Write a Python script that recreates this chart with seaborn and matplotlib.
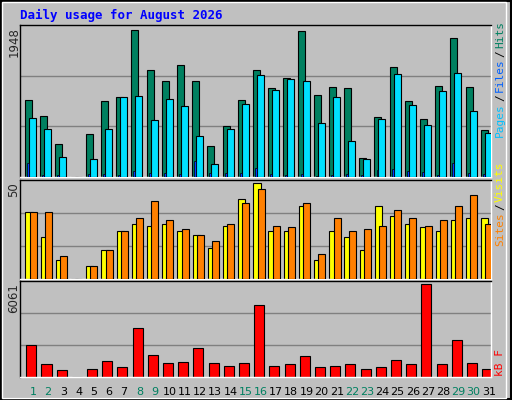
import matplotlib
matplotlib.use("Agg")
import matplotlib.pyplot as plt
import seaborn as sns
import numpy as np
from matplotlib.patches import Rectangle

sns.set_style("white")
plt.rcParams['font.family'] = ['DejaVu Sans Mono', 'DejaVu Sans']

days = list(range(1, 32))
day_labels = [str(d) for d in days]
weekend = [1, 2, 8, 9, 15, 16, 22, 23, 29, 30]

hits_px = [298,346,430,530,400,301,289,88,208,241,193,241,436,376,298,208,262,232,91,283,259,262,472,349,199,301,355,256,112,259,388]
files_px = [352,385,469,530,475,385,289,286,358,295,316,406,490,385,310,223,268,235,241,367,289,421,475,355,220,313,373,271,217,331,397]
pages_px = [487,523,523,530,520,520,523,511,517,517,520,481,517,517,517,502,520,523,520,526,523,520,523,508,505,511,514,523,487,517,520]
hits = [round((530 - p) / 442 * 1948) for p in hits_px]
files = [round((530 - p) / 442 * 1948) for p in files_px]
pages = [round((530 - p) / 442 * 1948) for p in pages_px]

sites_px = [109,181,247,305,268,220,169,142,148,142,169,175,214,148,70,28,166,169,97,247,166,181,220,94,121,142,154,166,136,127,130]
visits_px = [109,109,241,305,265,220,166,127,76,136,160,175,193,142,82,43,148,154,82,232,127,166,160,148,103,127,148,136,97,64,142]
sites = [round((305 - p) / 277 * 50) for p in sites_px]
visits = [round((305 - p) / 277 * 50) for p in visits_px]

kb_px = [508,565,580,602,577,556,571,457,538,562,559,517,562,568,562,388,568,565,541,571,568,565,577,571,553,565,328,565,493,562,577]
kbytes = [round((602 - p) / 274 * 6061) for p in kb_px]

BG = "#C0C0C0"
fig = plt.figure(figsize=(5.12, 4.0), dpi=100)
fig.patch.set_facecolor(BG)
fig.patches.append(Rectangle((0.002, 0.002), 0.996, 0.996, transform=fig.transFigure,
                             fill=False, edgecolor="black", lw=1.5))
fig.patches.append(Rectangle((0.004, 0.006), 0.985, 0.988, transform=fig.transFigure,
                             fill=False, edgecolor="white", lw=1))

W, H = 512, 400
def add_ax(top, bottom):
    ax = fig.add_axes([20 / W, (H - bottom) / H, 471 / W, (bottom - top) / H])
    ax.set_facecolor(BG)
    for s in ["left", "top"]:
        ax.spines[s].set_color("black")
    for s in ["right", "bottom"]:
        ax.spines[s].set_color("white")
    for s in ax.spines.values():
        s.set_linewidth(1)
    ax.set_xlim(0.145, 31.145)
    ax.set_xticks([])
    ax.set_yticks([])
    return ax

x = np.array(days, dtype=float)
frac = 0.965
ec = "black"

ax1 = add_ax(25, 177)
ymax = max(hits) / frac
ax1.set_ylim(0, ymax)
for g in (1/3, 2/3):
    ax1.axhline(g * ymax, color="#808080", lw=1, zorder=0)
ax1.bar(x - 0.296, hits, width=0.46, color="#008060", edgecolor=ec, lw=0.8, zorder=2)
ax1.bar(x - 0.03, files, width=0.46, color="#00E0FF", edgecolor=ec, lw=0.8, zorder=3)
ax1.bar(x - 0.325, pages, width=0.13, color="#0040FF", edgecolor=ec, lw=0.5, zorder=4)
fig.text(14 / W, (H - 27) / H, "1948", rotation=90, ha="center", va="top", fontsize=8.5, family="DejaVu Sans")

ax2 = add_ax(180, 279)
ymax = max(sites + visits) / frac
ax2.set_ylim(0, ymax)
for g in (1/3, 2/3):
    ax2.axhline(g * ymax, color="#808080", lw=1, zorder=0)
ax2.bar(x - 0.26, sites, width=0.48, color="#FFFF00", edgecolor=ec, lw=0.8, zorder=2)
ax2.bar(x + 0.01, visits, width=0.46, color="#FF8000", edgecolor=ec, lw=0.8, zorder=3)
fig.text(14 / W, (H - 182) / H, "50", rotation=90, ha="center", va="top", fontsize=8.5, family="DejaVu Sans")

ax3 = add_ax(281, 377)
ymax = max(kbytes) / frac
ax3.set_ylim(0, ymax)
for g in (1/3, 2/3):
    ax3.axhline(g * ymax, color="#808080", lw=1, zorder=0)
ax3.bar(x - 0.11, kbytes, width=0.66, color="#FF0000", edgecolor=ec, lw=0.8, zorder=2)
fig.text(14 / W, (H - 283) / H, "6061", rotation=90, ha="center", va="top", fontsize=8.5, family="DejaVu Sans")

for d, lab in zip(days, day_labels):
    ax3.text(d, -0.1, lab, transform=ax3.get_xaxis_transform(), ha="center", va="top",
             fontsize=8, family="DejaVu Sans",
             color="#008060" if d in weekend else "black")

fig.text(20 / W, (H - 15) / H, "Daily usage for August 2026", color="#0000FF",
         fontsize=9, fontweight="bold", va="center", ha="left")

renderer = fig.canvas.get_renderer()
def stacked(x_px, y_bottom_px, parts, fs=8):
    y = y_bottom_px
    for txt, col in parts:
        t = fig.text(x_px / W, (H - y) / H, txt, rotation=90, color=col, fontsize=fs,
                     ha="center", va="bottom")
        ext = t.get_window_extent(renderer=renderer)
        y -= ext.height + 2

stacked(500, 137, [("Pages", "#00C0FF"), ("/", "#000000"), ("Files", "#0060FF"), ("/", "#000000"), ("Hits", "#008060")])
stacked(500, 246, [("Sites", "#FF8000"), ("/", "#000000"), ("Visits", "#FFFF00")])
stacked(500, 376, [("kB F", "#FF0000")])

fig.savefig("out.png", dpi=100, facecolor=BG)
